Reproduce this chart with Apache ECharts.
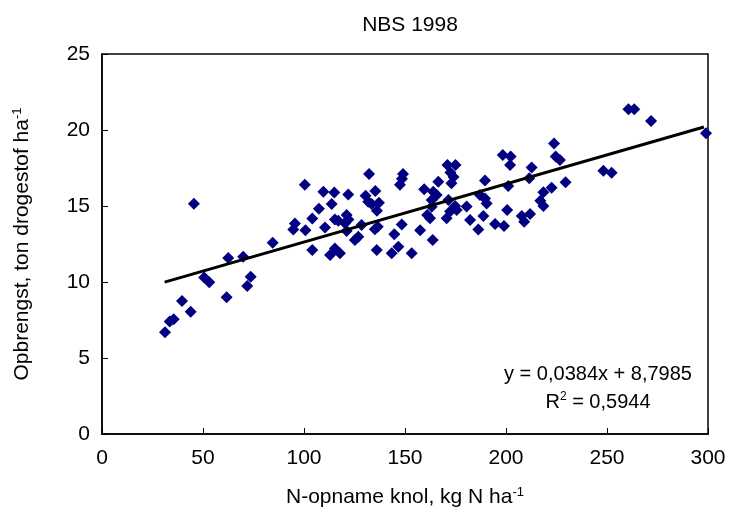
<!DOCTYPE html>
<html><head><meta charset="utf-8">
<script src="https://cdn.jsdelivr.net/npm/echarts@6/dist/echarts.min.js"></script>
<style>html,body{margin:0;padding:0;background:#fff}#c{width:733px;height:516px}</style>
</head><body><div id="c"></div>
<script>
var titleText = 'NBS 1998';
var xTicks = [0, 50, 100, 150, 200, 250, 300];
var yTicks = [0, 5, 10, 15, 20, 25];
var nUptake = [31.2,33.5,35.5,39.6,43.9,45.5,50.6,53.1,61.7,62.5,69.9,71.9,73.6,84.5,94.7,95.5,100.4,100.7,104.1,104.1,107.4,109.6,110.4,112.9,113.7,115,115.3,115.3,117,117.8,120.3,121.1,121.9,122,121.1,125.2,126.9,128.5,130.5,131.8,132.2,133.5,135.1,135.3,136,136.1,136.5,137.1,143.4,144.7,146.7,147.5,148.4,148.5,149,153.3,157.5,159.5,161,162.4,163.2,163.2,163.7,164,165.7,166.5,170.6,171.5,172.3,171,175,172.5,174,173,174.8,175.6,180.5,182.2,186.3,187.1,188.8,189.6,189.6,190.4,194.6,198.4,199,200.6,201.1,202,202.3,207.8,209,211.5,211.9,212.7,217,218.5,218.5,222.6,223.8,224.6,226.7,229.5,248.2,252.3,260.6,263.5,271.8,299];
var yieldVals = [6.7,7.4,7.55,8.75,8.05,15.15,10.3,9.98,8.99,11.58,11.66,9.74,10.35,12.59,13.45,13.85,16.4,13.4,14.17,12.1,14.82,15.94,13.59,11.78,15.13,15.88,14.12,12.21,14.03,11.89,13.86,14.41,15.75,14.12,13.35,12.76,12.98,13.75,15.68,15.28,17.1,15.13,13.47,15.99,12.1,14.69,13.64,15.22,11.89,13.14,12.32,16.4,13.79,16.8,17.1,11.89,13.4,16.1,14.41,14.19,15.4,14.95,12.76,15.94,15.72,16.6,14.19,15.4,14.63,17.7,17.7,17.2,16.9,16.5,15.0,14.74,14.96,14.08,13.46,15.72,14.34,15.5,16.67,15.17,13.82,18.36,13.68,14.74,16.32,17.7,18.25,14.34,13.97,16.82,14.47,17.54,15.35,15.9,15.0,16.2,19.12,18.25,18.03,16.56,17.32,17.19,21.36,21.36,20.6,19.78];
var trendX = [31, 298];
var trendY = [9.99, 20.2];
var eqLine1 = 'y = 0,0384x + 8,7985';
var eqLine2 = 'R{sup|2} = 0,5944';

var FONT = "'Liberation Sans', Arial, sans-serif";
var pts = nUptake.map(function (x, i) { return [x, yieldVals[i]]; });
var trend = trendX.map(function (x, i) { return [x, trendY[i]]; });
var supRich = { sup: { fontSize: 13, verticalAlign: 'top', padding: [0, 0, 10, 0], fontFamily: FONT, color: '#000' } };

var chart = echarts.init(document.getElementById('c'), null, { renderer: 'canvas' });
chart.setOption({
  animation: false,
  title: { text: titleText, left: 405, top: 10, textAlign: 'center',
    textStyle: { fontFamily: FONT, fontSize: 21, fontWeight: 'normal', color: '#000' } },
  grid: { left: 102, right: 25, top: 54, bottom: 82, show: true, borderColor: '#000', borderWidth: 1.5, backgroundColor: 'transparent' },
  xAxis: {
    type: 'value', min: xTicks[0], max: xTicks[xTicks.length - 1], interval: 50,
    name: 'N-opname knol, kg N ha{sup|-1}', nameLocation: 'middle', nameGap: 52,
    nameTextStyle: { fontFamily: FONT, fontSize: 21, color: '#000', rich: supRich },
    axisLine: { lineStyle: { color: '#000', width: 1.5 } },
    axisTick: { inside: true, length: 6, lineStyle: { color: '#000', width: 1 } },
    axisLabel: { fontFamily: FONT, fontSize: 21, color: '#000', margin: 14 },
    splitLine: { show: false }
  },
  yAxis: {
    type: 'value', min: yTicks[0], max: yTicks[yTicks.length - 1], interval: 5,
    name: 'Opbrengst, ton drogestof ha{sup|-1}', nameLocation: 'middle', nameGap: 68, nameRotate: 90,
    nameTextStyle: { fontFamily: FONT, fontSize: 21, color: '#000', rich: supRich },
    axisLine: { lineStyle: { color: '#000', width: 1.5 } },
    axisTick: { inside: true, length: 6, lineStyle: { color: '#000', width: 1 } },
    axisLabel: { fontFamily: FONT, fontSize: 21, color: '#000', margin: 12 },
    splitLine: { show: false }
  },
  series: [
    { type: 'scatter', data: pts, symbol: 'diamond', symbolSize: 12,
      itemStyle: { color: '#000080', opacity: 1 }, z: 3 },
    { type: 'line', data: trend, symbol: 'none', lineStyle: { color: '#000', width: 3 }, z: 4 }
  ],
  graphic: [
    { type: 'text', x: 598, y: 364, z: 10, style: { text: eqLine1, fontFamily: FONT, fontSize: 20, fill: '#000', textAlign: 'center' } },
    { type: 'text', x: 598, y: 391, z: 10, style: { text: eqLine2, fontFamily: FONT, fontSize: 20, fill: '#000', textAlign: 'center',
      rich: { sup: { fontSize: 12, verticalAlign: 'top', padding: [0, 0, 10, 0], fontFamily: FONT } } } }
  ]
});
</script></body></html>
